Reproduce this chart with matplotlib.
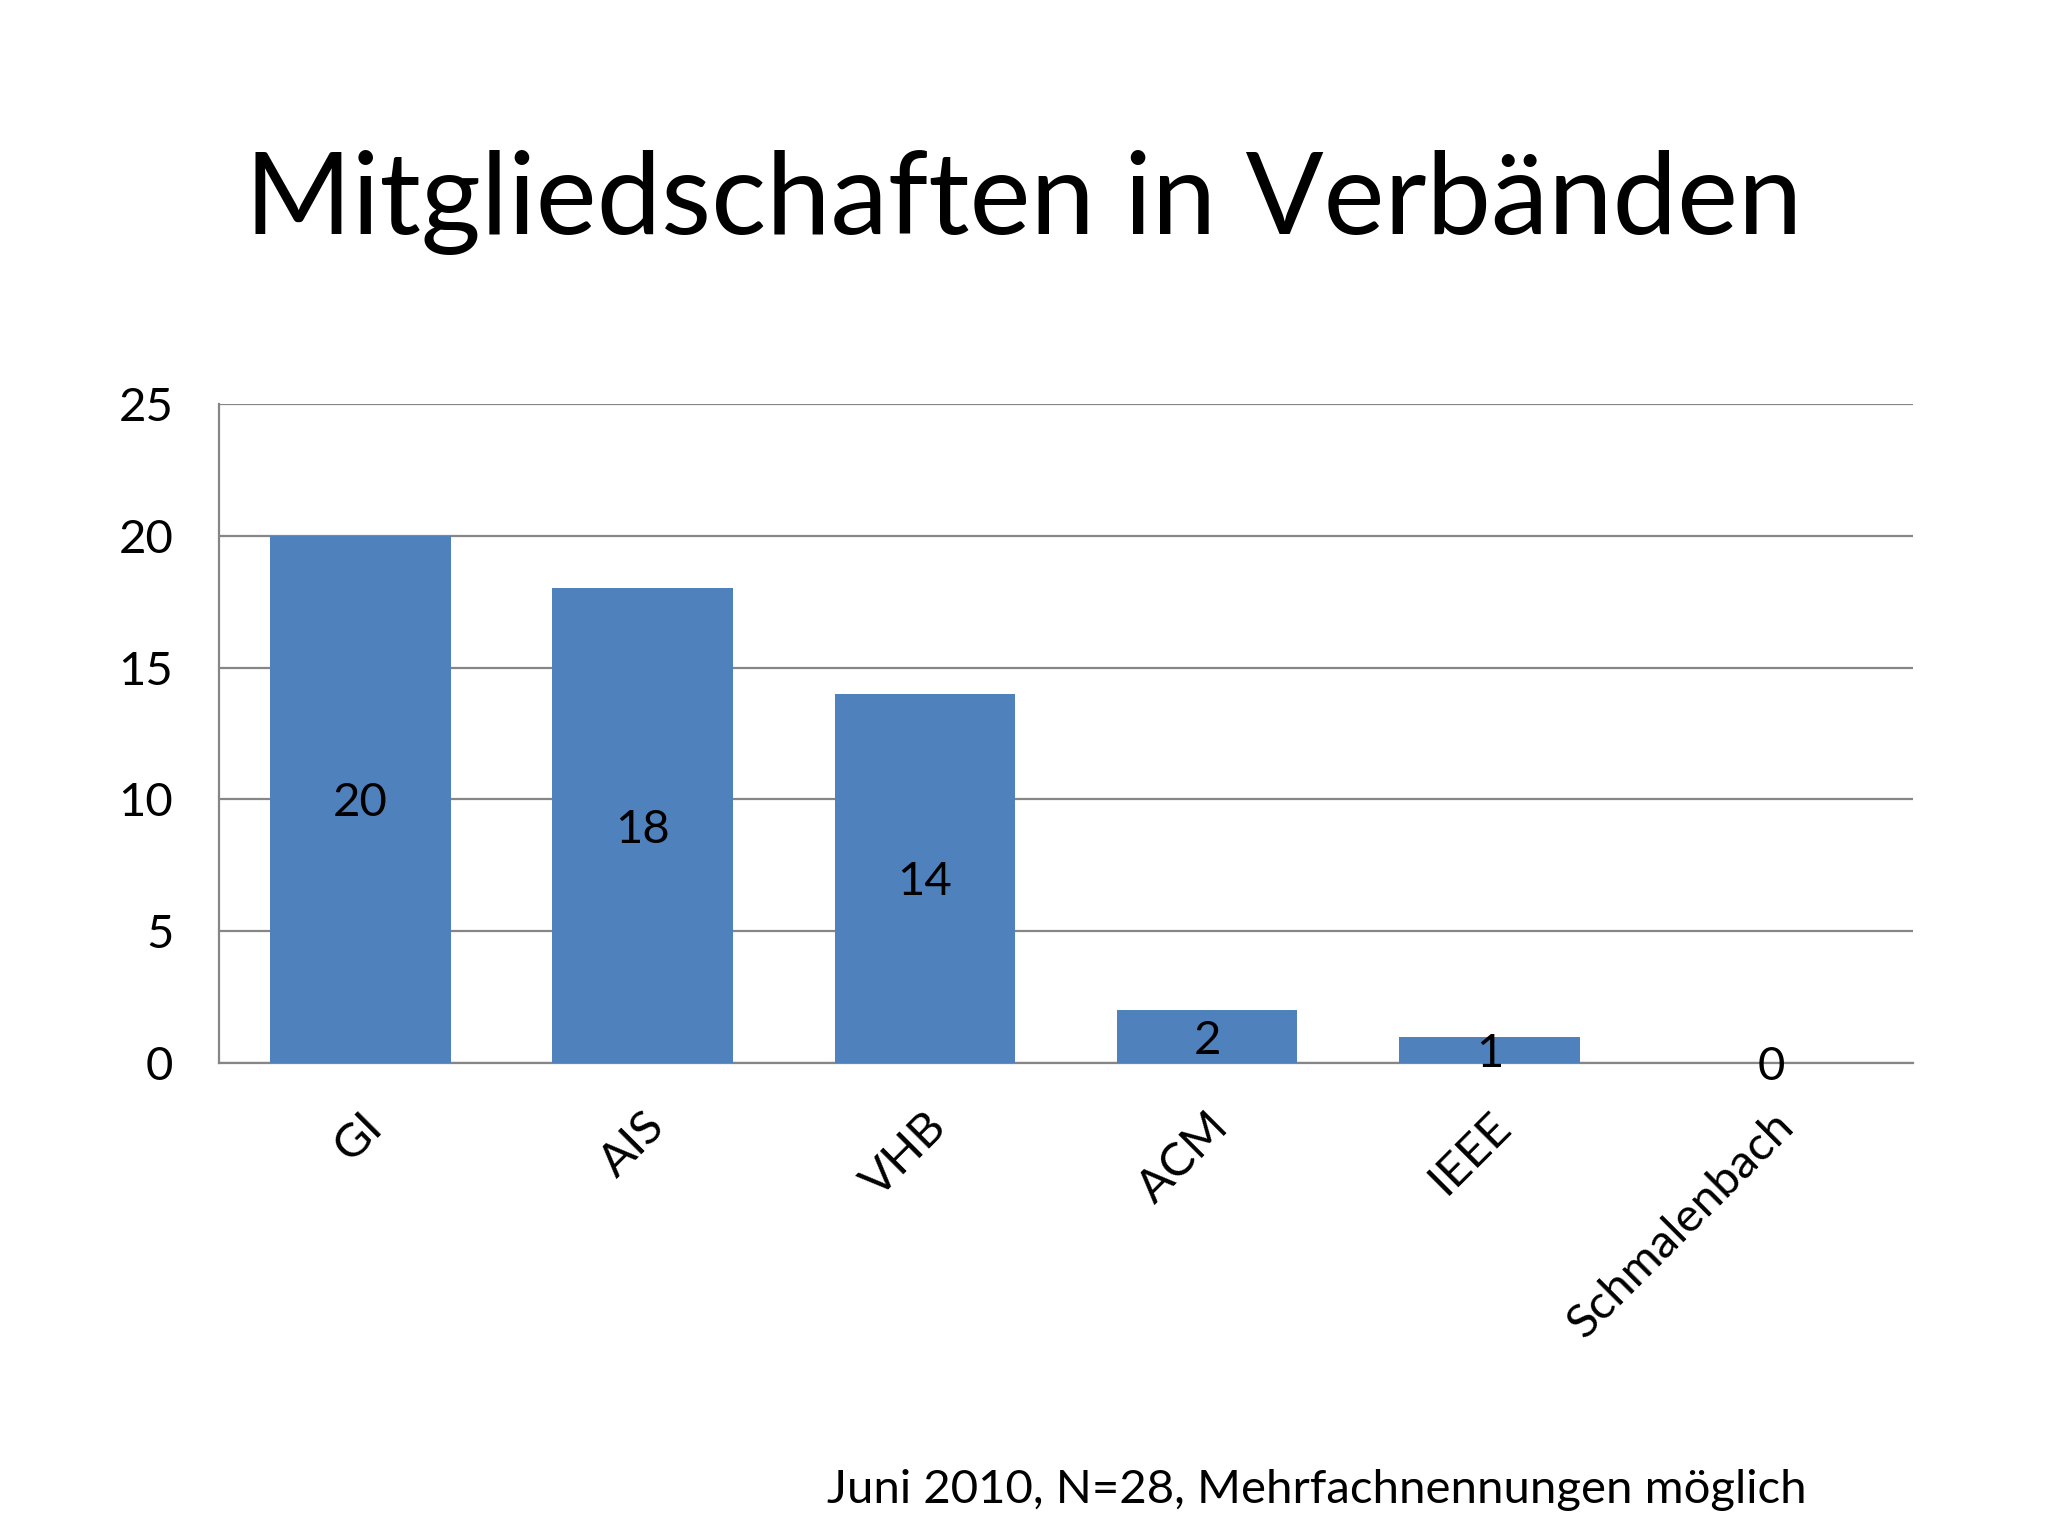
import matplotlib.pyplot as plt
import numpy as np

plt.rcParams['font.family'] = ['Lato', 'DejaVu Sans']

categories = ["GI", "AIS", "VHB", "ACM", "IEEE", "Schmalenbach"]
counts = [20, 18, 14, 2, 1, 0]
yticks = [0, 5, 10, 15, 20, 25]

title = "Mitgliedschaften in Verbänden"
note = "Juni 2010, N=28, Mehrfachnennungen möglich"

fig = plt.figure(figsize=(20.48, 15.36), dpi=100)
ax = fig.add_axes([0.107, 0.308, 0.827, 0.429])

x = np.arange(len(categories))
ax.bar(x, counts, width=0.64, color='#4F81BD', zorder=3)

# value labels sit in the middle of each bar
for xi, c in zip(x, counts):
    ax.text(xi, c / 2, str(c), ha='center', va='center_baseline', fontsize=34, color='black', zorder=4)

ax.set_xlim(-0.5, len(categories) - 0.5)
ax.set_ylim(0, 25)
ax.set_yticks(yticks)
ax.set_yticklabels([str(t) for t in yticks], fontsize=34)
ax.yaxis.grid(True, color='#868686', linewidth=1.6, zorder=0)
ax.tick_params(axis='y', length=0, pad=33)
ax.tick_params(axis='x', length=0, pad=30)

ax.set_xticks(x)
ax.set_xticklabels(categories, fontsize=34, rotation=45, ha='right', va='top', rotation_mode='anchor')

for side in ['top', 'right']:
    ax.spines[side].set_visible(False)
for side in ['left', 'bottom']:
    ax.spines[side].set_color('#868686')
    ax.spines[side].set_linewidth(1.6)

fig.text(0.5, 0.868, title, ha='center', va='center', fontsize=83)
fig.text(0.882, 0.030, note, ha='right', va='center', fontsize=34)

fig.savefig("out.png", dpi=100, facecolor='white')
